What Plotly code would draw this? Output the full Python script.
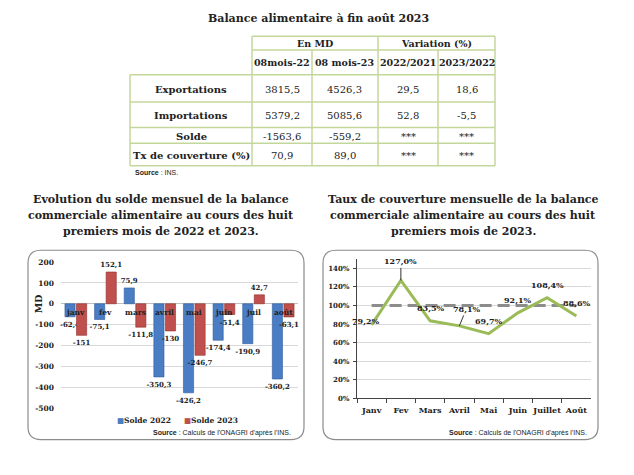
import plotly.graph_objects as go

W, H = 634, 475
SERIF = "DejaVu Serif"
SANS = "Liberation Sans"
INK = "#222222"
GREEN_LINE = "#c4d79b"

# ---------------- data ----------------
table_title = "Balance alimentaire à fin août 2023"
group_headers = ["En MD", "Variation (%)"]
col_headers = ["08mois-22", "08 mois-23", "2022/2021", "2023/2022"]
row_labels = ["Exportations", "Importations", "Solde", "Tx de couverture (%)"]
md_2022 = [3815.5, 5379.2, -1563.6, 70.9]
md_2023 = [4526.3, 5085.6, -559.2, 89.0]
var_2022_2021 = [29.5, 52.8, None, None]
var_2023_2022 = [18.6, -5.5, None, None]
table_source = "INS."

bar_title = ["Evolution du solde mensuel de la balance",
             "commerciale alimentaire au cours des huit",
             "premiers mois de 2022 et 2023."]
months_short = ["janv", "fev", "mars", "avril", "mai", "juin", "juil", "août"]
solde_2022 = [-62.4, -75.1, 75.9, -350.3, -426.2, -174.4, -190.9, -360.2]
solde_2023 = [-151, 152.1, -111.8, -130, -246.7, -51.4, 42.7, -63.1]
series_names = ["Solde 2022", "Solde 2023"]
md_ticks = [200, 100, 0, -100, -200, -300, -400, -500]

line_title = ["Taux de couverture mensuelle de la balance",
              "commerciale alimentaire au cours des huit",
              "premiers mois de 2023."]
months_long = ["Janv", "Fev", "Mars", "Avril", "Mai", "Juin", "Juillet", "Août"]
taux_2023 = [79.2, 127.0, 83.5, 78.1, 69.7, 92.1, 108.4, 88.6]
seuil_100 = [100, 100, 100, 100, 100, 100, 100, 100]
chart_source = "Calculs de l'ONAGRI d'après l'INS."


def fr(v, fmt="%.1f"):
    if v is None:
        return "***"
    return (fmt % v).replace(".", ",")


def X(px):
    return px / W


def Y(py):
    return 1 - py / H


BLUE, BLUE_D = "#4a7dc4", "#2f5d9c"
RED, RED_D = "#c0504d", "#8e2f2c"

fig = go.Figure()
annotations = []
shapes = []


def ann(px, py, text, font, xanchor="center", **kw):
    d = dict(x=X(px), y=Y(py), xref="paper", yref="paper", text=text, showarrow=False,
             xanchor=xanchor, yanchor="middle", font=font)
    d.update(kw)
    annotations.append(d)


def hline(x0, x1, y, color=GREEN_LINE, width=1.5):
    shapes.append(dict(type="line", xref="paper", yref="paper", x0=X(x0), x1=X(x1),
                       y0=Y(y), y1=Y(y), line=dict(color=color, width=width)))


def vline(x, y0, y1, color=GREEN_LINE, width=1.5):
    shapes.append(dict(type="line", xref="paper", yref="paper", x0=X(x), x1=X(x),
                       y0=Y(y0), y1=Y(y1), line=dict(color=color, width=width)))


# ---------------- table (layout grid in px) ----------------
COLS = [130, 252, 312, 378, 438, 495]          # column boundaries
ROWS = [33, 47, 72, 100, 126, 142, 165]         # row boundaries
TH = dict(family=SERIF, size=9.5, color=INK)
TB = dict(family=SERIF, size=10, color=INK)
hline(COLS[1], COLS[-1], ROWS[0])
hline(COLS[1], COLS[-1], ROWS[1])
for r in ROWS[2:]:
    hline(COLS[0], COLS[-1], r)
vline(COLS[0], ROWS[2], ROWS[-1])
for i, c in enumerate(COLS[1:], start=1):
    top = ROWS[0] if i in (1, 3, 5) else ROWS[1]
    vline(c, top, ROWS[-1])
# group header row (each spans two columns)
for j, g in enumerate(group_headers):
    ann((COLS[1 + 2 * j] + COLS[3 + 2 * j]) / 2, (ROWS[0] + ROWS[1]) / 2 + 0.5,
        "<b>%s</b>" % g, TH)
# column header row
for j, c in enumerate(col_headers):
    ann((COLS[1 + j] + COLS[2 + j]) / 2, (ROWS[1] + ROWS[2]) / 2, "<b>%s</b>" % c, TH)
# body
columns = [md_2022, md_2023, var_2022_2021, var_2023_2022]
for i, lab in enumerate(row_labels):
    yc = (ROWS[2 + i] + ROWS[3 + i]) / 2 + 1
    ann((COLS[0] + COLS[1]) / 2, yc, "<b>%s</b>" % lab, TB)
    for j, col in enumerate(columns):
        ann((COLS[1 + j] + COLS[2 + j]) / 2, yc, fr(col[i]), TB)

# ---------------- bar chart ----------------
for name, vals, col, dcol in ((series_names[0], solde_2022, BLUE, BLUE_D),
                              (series_names[1], solde_2023, RED, RED_D)):
    fig.add_trace(go.Bar(
        x=months_short, y=vals, name=name, xaxis="x", yaxis="y",
        marker=dict(color=col, line=dict(color=dcol, width=0.6)),
        text=[fr(v, "%g") for v in vals], textposition="outside",
        constraintext="none", cliponaxis=False,
        textfont=dict(family=SERIF, size=7, color=INK, weight="bold"),
        showlegend=False))

# ---------------- line chart ----------------
fig.add_trace(go.Scatter(
    x=months_long, y=seuil_100, xaxis="x2", yaxis="y2", mode="lines",
    line=dict(color="#8c8c8c", width=3, dash="12px,6px"), showlegend=False))
fig.add_trace(go.Scatter(
    x=months_long, y=taux_2023, xaxis="x2", yaxis="y2", mode="lines",
    line=dict(color="#9bbb59", width=3), showlegend=False, cliponaxis=False))

TITLE_FONT = dict(family=SERIF, size=11, color=INK)
ann(318, 15, "<b>%s</b>" % table_title, TITLE_FONT)
for i, line in enumerate(bar_title):
    ann(161, 199 + 16.5 * i, "<b>%s</b>" % line, TITLE_FONT)
for i, line in enumerate(line_title):
    ann(463, 199 + 16.5 * i, "<b>%s</b>" % line, TITLE_FONT)

SRC_FONT = dict(family=SANS, size=7, color=INK)
ann(133, 172, "<b>Source</b> : %s" % table_source, SRC_FONT, xanchor="left")
for xr in (293, 589):
    ann(xr, 437, "<b>Source</b> : %s" % chart_source, SRC_FONT, xanchor="right")

# bar chart category labels at the zero line
for m in months_short:
    annotations.append(dict(x=m, y=0, xref="x", yref="y", yanchor="top", xanchor="center",
                            yshift=-2, text="<b>%s</b>" % m, showarrow=False,
                            font=dict(family=SERIF, size=7.5, color=INK)))
ann(38, 306, "<b>MD</b>", dict(family=SERIF, size=9.5, color=INK), textangle=-90)

# legend
for name, col, xl in ((series_names[0], BLUE, 115), (series_names[1], RED, 182)):
    ann(xl, 425, '<span style="color:%s">■</span><b>%s</b>' % (col, name),
        dict(family=SERIF, size=7.5, color=INK), xanchor="left")

# line chart labels (offsets in px: dx, dy, leader line)
label_style = {"Janv": (-6, -4, False), "Fev": (0, -19, True), "Avril": (7, -17, True)}
for m, v in zip(months_long, taux_2023):
    dx, dy, arrow = label_style.get(m, (0, -13, False))
    a = dict(x=m, y=v, xref="x2", yref="y2", text="<b>%s%%</b>" % fr(v),
             xanchor="center", yanchor="middle",
             font=dict(family=SERIF, size=8, color=INK))
    if arrow:
        a.update(showarrow=True, arrowhead=0, arrowwidth=1, arrowcolor="#333",
                 ax=dx, ay=dy, standoff=0)
    else:
        a.update(showarrow=False, xshift=dx, yshift=-dy)
    annotations.append(a)


def rrect(x0, y0, x1, y1, r):
    return (f"M {X(x0 + r)},{Y(y0)} L {X(x1 - r)},{Y(y0)} "
            f"Q {X(x1)},{Y(y0)} {X(x1)},{Y(y0 + r)} L {X(x1)},{Y(y1 - r)} "
            f"Q {X(x1)},{Y(y1)} {X(x1 - r)},{Y(y1)} L {X(x0 + r)},{Y(y1)} "
            f"Q {X(x0)},{Y(y1)} {X(x0)},{Y(y1 - r)} L {X(x0)},{Y(y0 + r)} "
            f"Q {X(x0)},{Y(y0)} {X(x0 + r)},{Y(y0)} Z")


for bx0, bx1 in ((28, 304), (323, 598)):
    shapes.append(dict(type="path", xref="paper", yref="paper",
                       path=rrect(bx0, 251, bx1, 444, 13),
                       line=dict(color="#8c8c8c", width=1.2), layer="below"))

fig.update_layout(
    width=W, height=H, autosize=False,
    margin=dict(l=0, r=0, t=0, b=0),
    paper_bgcolor="white", plot_bgcolor="white",
    barmode="group", bargap=0.22, bargroupgap=0.12,
    showlegend=False,
    xaxis=dict(domain=[X(61), X(298)], anchor="y", type="category",
               showticklabels=False, showline=False, ticks="", showgrid=False,
               range=[-0.5, 7.5]),
    yaxis=dict(domain=[Y(412), Y(263)], anchor="x", range=[-500, 200],
               tickmode="array", tickvals=md_ticks, ticktext=[str(t) for t in md_ticks],
               showgrid=True, gridcolor="#d9d9d9", gridwidth=1,
               zeroline=True, zerolinecolor="#bfbfbf", zerolinewidth=1,
               showline=False, ticks="", ticklabelstandoff=6,
               tickfont=dict(family=SERIF, size=7.5, color=INK, weight="bold")),
    xaxis2=dict(domain=[X(357), X(591)], anchor="y2", type="category",
                range=[-0.5, 7.5], tickson="boundaries", ticks="outside", ticklen=4,
                tickcolor="#444", showline=True, linecolor="#444", linewidth=1.2,
                showgrid=False, tickangle=0, ticklabelstandoff=4,
                tickfont=dict(family=SERIF, size=8, color=INK, weight="bold")),
    yaxis2=dict(domain=[Y(402), Y(260)], anchor="x2", range=[0, 150], dtick=20,
                ticksuffix="%", showgrid=True, gridcolor="#d9d9d9", zeroline=False,
                showline=True, linecolor="#444", linewidth=1.2, ticks="outside",
                ticklen=3, tickcolor="#444", ticklabelstandoff=2,
                tickfont=dict(family=SERIF, size=7, color=INK, weight="bold")),
    annotations=annotations,
    shapes=shapes,
)

fig.write_html("out.html", config={"displayModeBar": False},
               post_script="document.body.style.margin='0';document.body.style.padding='0';"
                           "document.documentElement.style.overflow='hidden';")
